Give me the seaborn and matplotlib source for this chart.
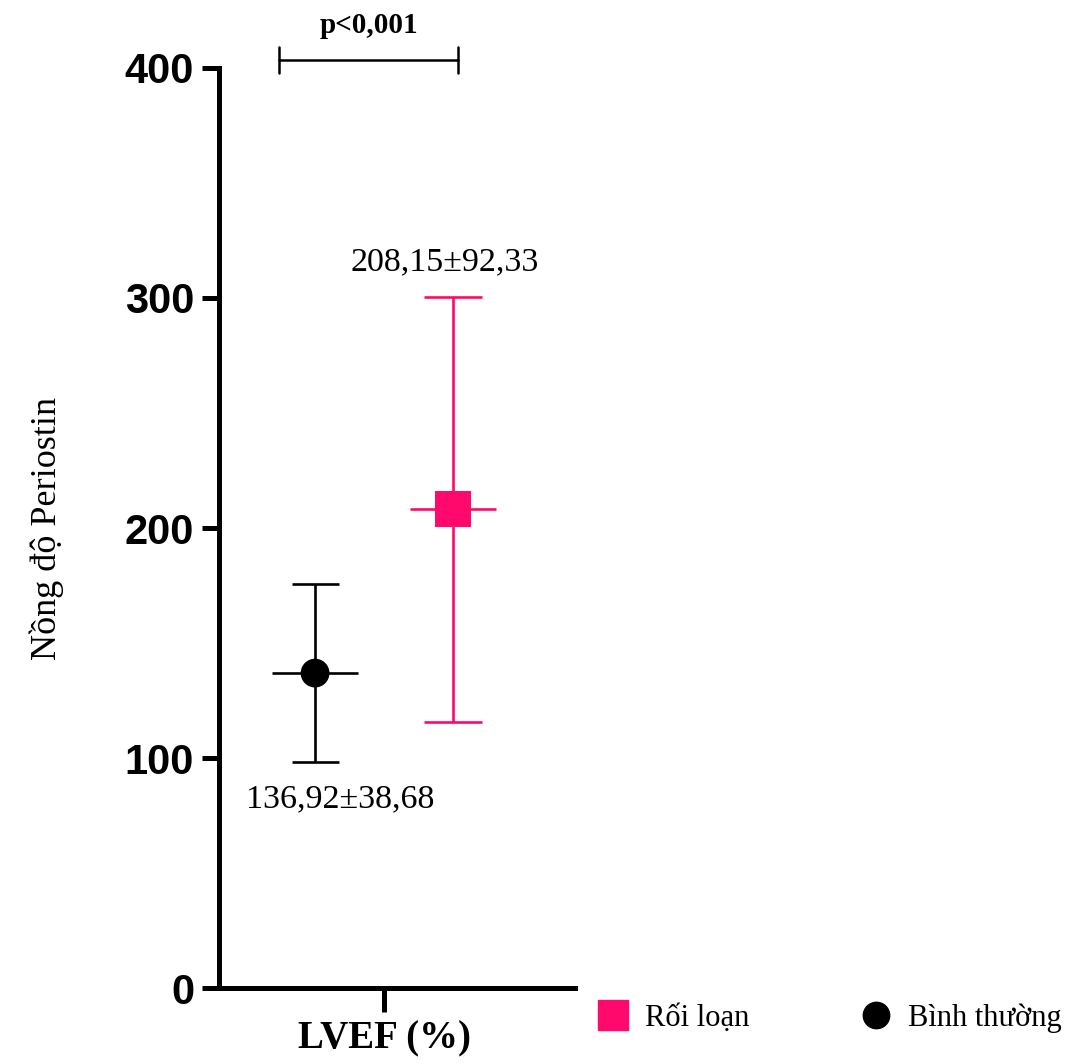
import matplotlib
matplotlib.use("Agg")
import matplotlib.pyplot as plt
import seaborn as sns
import pandas as pd
from matplotlib.lines import Line2D

groups = ["Bình thường", "Rối loạn"]
means = [136.92, 208.15]
sds = [38.68, 92.33]
labels = ["136,92±38,68", "208,15±92,33"]
colors = ["#000000", "#FF0A6C"]
markers = ["o", "s"]
y_ticks = [0, 100, 200, 300, 400]
x_tick_label = "LVEF (%)"
y_label = "Nồng độ Periostin"
p_text = "p<0,001"

df = pd.DataFrame({"group": groups, "mean": means, "sd": sds, "x": [0, 1]})

sns.set_style("white")
plt.rcParams["text.color"] = "black"
plt.rcParams["axes.labelcolor"] = "black"
plt.rcParams["xtick.color"] = "black"
plt.rcParams["ytick.color"] = "black"

fig = plt.figure(figsize=(10.69, 10.64), dpi=100)
ax = fig.add_axes([0.2049, 0.0714, 0.3330, 0.8647])

cap_half = [0.17, 0.21]
for i, row in df.iterrows():
    ax.vlines(row["x"], row["mean"] - row["sd"], row["mean"] + row["sd"], color=colors[i], lw=1.9, zorder=2)
    for yv in (row["mean"] - row["sd"], row["mean"] + row["sd"]):
        ax.hlines(yv, row["x"] - cap_half[i], row["x"] + cap_half[i], color=colors[i], lw=1.9, zorder=2)
    ax.hlines(row["mean"], row["x"] - 0.31, row["x"] + 0.31, color=colors[i], lw=1.9, zorder=2)

sns.scatterplot(data=df, x="x", y="mean", hue="group", style="group",
                palette=dict(zip(groups, colors)), markers=dict(zip(groups, markers)),
                s=500, ax=ax, legend=False, zorder=3, edgecolor="none")
ax.collections[-1].set_sizes([430, 680])

# annotations
ax.text(df["x"][0] + 0.18, df["mean"][0] - df["sd"][0] - 16, labels[0], ha="center", va="center",
        fontsize=24.5, family="Liberation Serif")
ax.text(df["x"][1] - 0.06, df["mean"][1] + df["sd"][1] + 15, labels[1], ha="center", va="center",
        fontsize=24.5, family="Liberation Serif")

# significance bracket
bx0, bx1, by = -0.26, 1.036, 403.5
ax.plot([bx0, bx1], [by, by], color="black", lw=1.8, clip_on=False)
ax.plot([bx0, bx0], [by - 5.5, by + 5.5], color="black", lw=1.8, clip_on=False)
ax.plot([bx1, bx1], [by - 5.5, by + 5.5], color="black", lw=1.8, clip_on=False)
ax.text((bx0 + bx1) / 2, by + 9, p_text, ha="center", va="bottom", fontsize=21,
        fontweight="bold", family="Liberation Serif", clip_on=False)

ax.set_xlim(-0.696, 1.884)
ax.set_ylim(0, 400)
ax.set_yticks(y_ticks)
ax.set_yticklabels([str(v) for v in y_ticks], fontsize=30, fontweight="bold", family="Liberation Sans")
ax.set_xticks([0.5])
ax.set_xticklabels([x_tick_label], fontsize=28, fontweight="bold", family="Liberation Serif")
ax.set_xlabel("")
ax.set_ylabel(y_label, fontsize=26, family="Liberation Serif", labelpad=44)

for s in ["top", "right"]:
    ax.spines[s].set_visible(False)
for s in ["left", "bottom"]:
    ax.spines[s].set_linewidth(3.6)
    ax.spines[s].set_color("black")
ax.tick_params(axis="both", which="both", direction="out", length=12, width=3.6, color="black", pad=6,
               left=True, bottom=True, labelcolor="black")
ax.tick_params(axis="x", length=17, pad=6)

# legend
handles = [Line2D([], [], marker="s", ls="", color=colors[1], markersize=21),
           Line2D([], [], marker="o", ls="", color=colors[0], markersize=19)]
leg = fig.legend(handles, ["Rối loạn", "Bình thường"], loc="center left",
                 bbox_to_anchor=(0.533, 0.043), ncol=2, frameon=False,
                 prop={"family": "Liberation Serif", "size": 22}, columnspacing=3.65,
                 handletextpad=0.55, handlelength=1.0)

fig.savefig("out.png", dpi=100)
